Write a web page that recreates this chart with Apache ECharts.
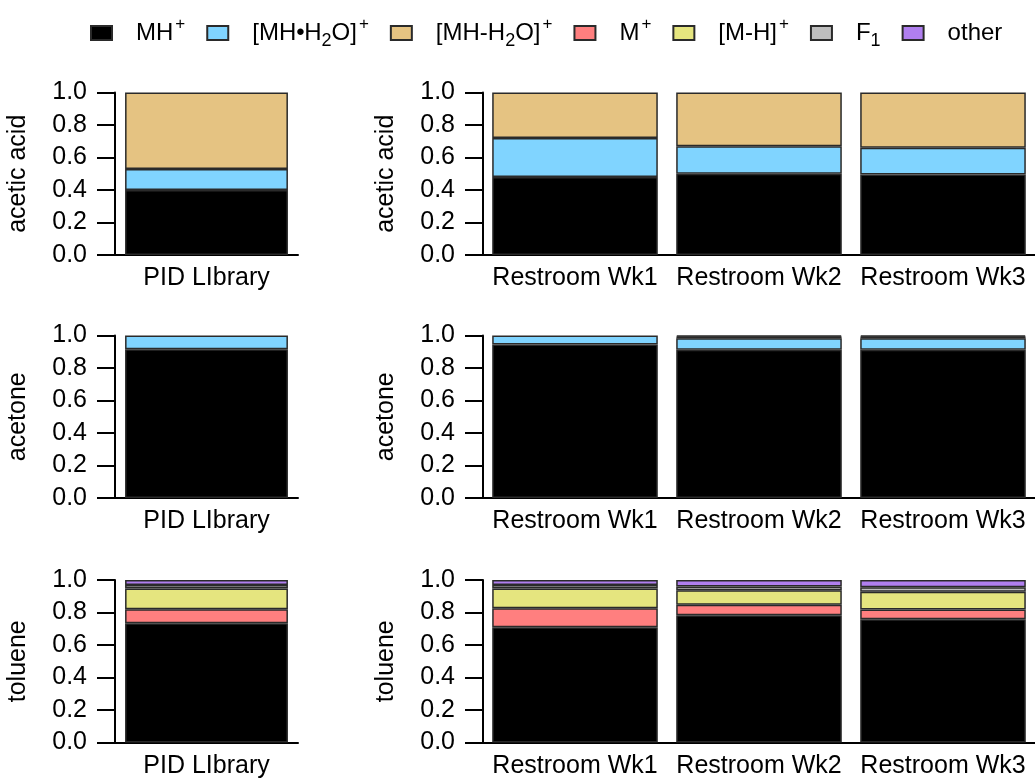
<!DOCTYPE html>
<html>
<head>
<meta charset="utf-8">
<title>ion fractions</title>
<script src="https://cdn.jsdelivr.net/npm/echarts@6/dist/echarts.min.js"></script>
<style>
html, body { margin: 0; padding: 0; background: #fff; }
#ionChart { width: 1035px; height: 780px; }
</style>
</head>
<body>
<div id="ionChart"></div>
<script>
// ions, bottom to top of each stack (same order as legend)
var ionNames = ['MH+', '[MH•H2O]+', '[MH-H2O]+', 'M+', '[M-H]+', 'F1', 'other'];
var ionLabels = ['MH{sup|+}', '[MH{dot|•}H{sub|2}O]{sup|+}', '[MH-H{sub|2}O]{sup|+}', 'M{sup|+}', '[M-H]{sup|+}', 'F{sub|1}', 'other'];
var ionColors = ['#000000', '#80D4FF', '#E5C382', '#FF7F7F', '#E5E57F', '#BEBEBE', '#B07FEF'];

var compounds = ['acetic acid', 'acetone', 'toluene'];
var libraryCategories = ['PID LIbrary'];
var restroomCategories = ['Restroom Wk1', 'Restroom Wk2', 'Restroom Wk3'];

// fractions, one row per ion
var aceticLibrary = [[0.40], [0.13], [0.47], [0], [0], [0], [0]];
var aceticRestroom = [
	[0.48, 0.50, 0.495],
	[0.24, 0.17, 0.165],
	[0.28, 0.33, 0.34],
	[0, 0, 0],
	[0, 0, 0],
	[0, 0, 0],
	[0, 0, 0]
];
var acetoneLibrary = [[0.915], [0.085], [0], [0], [0], [0], [0]];
var acetoneRestroom = [
	[0.945, 0.913, 0.913],
	[0.055, 0.07, 0.07],
	[0, 0, 0],
	[0, 0.005, 0.005],
	[0, 0.005, 0.005],
	[0, 0, 0],
	[0, 0.007, 0.007]
];
var tolueneLibrary = [[0.734], [0], [0], [0.086], [0.128], [0.022], [0.03]];
var tolueneRestroom = [
	[0.71, 0.783, 0.759],
	[0, 0, 0],
	[0, 0, 0],
	[0.116, 0.065, 0.059],
	[0.121, 0.089, 0.11],
	[0.023, 0.023, 0.027],
	[0.03, 0.04, 0.045]
];

var panelData = [
	[aceticLibrary, aceticRestroom],
	[acetoneLibrary, acetoneRestroom],
	[tolueneLibrary, tolueneRestroom]
];

var fontName = '"Liberation Sans", Arial, sans-serif';
var gridTops = [92.5, 335.5, 580];

function drawIonChart() {
	var myChart = echarts.init(document.getElementById('ionChart'));
	var grids = [], xAxes = [], yAxes = [], series = [];

	for (var r = 0; r < compounds.length; r++) {
		for (var c = 0; c < 2; c++) {
			var p = grids.length;
			grids.push({
				left: c == 0 ? 115 : 483,
				width: c == 0 ? 183 : 552,
				top: gridTops[r],
				height: 162.5
			});
			xAxes.push({
				type: 'category',
				gridIndex: p,
				data: c == 0 ? libraryCategories : restroomCategories,
				axisLine: { lineStyle: { color: '#000', width: 2 } },
				axisTick: { show: false },
				axisLabel: { color: '#000', fontSize: 25, fontFamily: fontName, margin: 11, interval: 0 }
			});
			yAxes.push({
				type: 'value',
				gridIndex: p,
				min: 0,
				max: 1,
				interval: 0.2,
				name: compounds[r],
				nameLocation: 'middle',
				nameGap: 84,
				nameTextStyle: { color: '#000', fontSize: 25, fontFamily: fontName },
				axisLine: { show: true, lineStyle: { color: '#000', width: 2 } },
				axisTick: { show: true, length: 18, lineStyle: { color: '#000', width: 2 } },
				splitLine: { show: false },
				axisLabel: {
					color: '#000', fontSize: 25, fontFamily: fontName, margin: 28,
					formatter: function (v) { return v.toFixed(1); }
				}
			});
			var rows = panelData[r][c];
			for (var i = 0; i < ionNames.length; i++) {
				series.push({
					type: 'bar',
					name: ionNames[i],
					stack: 'panel' + p,
					xAxisIndex: p,
					yAxisIndex: p,
					barCategoryGap: c == 0 ? '11%' : '10%',
					data: rows[i].map(function (v) { return v > 0 ? v : null; }),
					itemStyle: { color: ionColors[i], borderColor: '#2a2a2a', borderWidth: 1.5 }
				});
			}
		}
	}

	var option = {
		animation: false,
		backgroundColor: '#fff',
		legend: {
			data: ionNames,
			top: 16,
			left: 90,
			padding: 0,
			icon: 'rect',
			itemWidth: 21,
			itemHeight: 14,
			itemGap: 21,
			selectedMode: false,
			formatter: function (name) { return ionLabels[ionNames.indexOf(name)]; },
			textStyle: {
				color: '#000', fontSize: 24, fontFamily: fontName, lineHeight: 34,
				padding: [0, 0, 0, 19],
				rich: {
					dot: { fontSize: 24, width: 8, color: '#000', fontFamily: fontName },
					sup: { fontSize: 17, lineHeight: 16, verticalAlign: 'top', padding: [0, 0, 0, 2], color: '#000', fontFamily: fontName },
					sub: { fontSize: 18, lineHeight: 16, verticalAlign: 'bottom', color: '#000', fontFamily: fontName }
				}
			}
		},
		grid: grids,
		xAxis: xAxes,
		yAxis: yAxes,
		series: series
	};
	myChart.setOption(option);
}

drawIonChart();
</script>
</body>
</html>
